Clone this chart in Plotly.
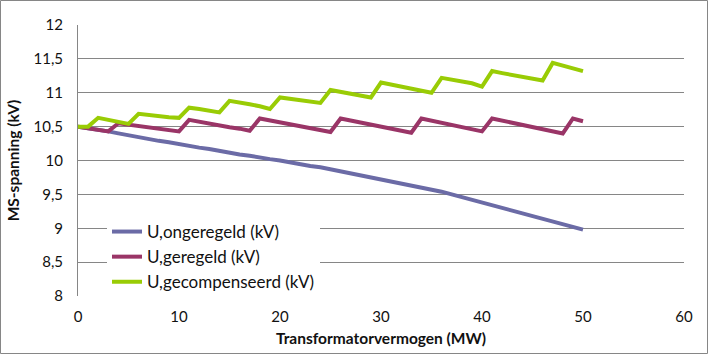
import plotly.graph_objects as go

x_mw = list(range(0, 51))

u_ongeregeld = [10.50, 10.48, 10.45, 10.43, 10.40, 10.37, 10.35, 10.32, 10.29, 10.27,
                10.24, 10.22, 10.19, 10.17, 10.14, 10.12, 10.09, 10.07, 10.04, 10.02,
                10.00, 9.97, 9.95, 9.92, 9.90, 9.87, 9.84, 9.81, 9.79, 9.76,
                9.73, 9.70, 9.67, 9.64, 9.61, 9.57, 9.54, 9.50, 9.46, 9.42,
                9.38, 9.34, 9.30, 9.26, 9.22, 9.18, 9.14, 9.10, 9.06, 9.02, 8.98]

u_geregeld = [10.50, 10.48, 10.46, 10.43, 10.55, 10.53, 10.51, 10.49, 10.47, 10.45,
              10.43, 10.60, 10.57, 10.54, 10.52, 10.49, 10.47, 10.44, 10.62, 10.59,
              10.56, 10.53, 10.51, 10.48, 10.45, 10.42, 10.62, 10.59, 10.56, 10.53,
              10.50, 10.47, 10.44, 10.41, 10.62, 10.59, 10.55, 10.52, 10.49, 10.46,
              10.43, 10.62, 10.59, 10.56, 10.52, 10.49, 10.46, 10.43, 10.40, 10.62, 10.58]

u_gecompenseerd = [10.50, 10.50, 10.63, 10.60, 10.57, 10.54, 10.69, 10.67, 10.66, 10.64,
                   10.63, 10.78, 10.76, 10.73, 10.71, 10.88, 10.86, 10.83, 10.80, 10.76,
                   10.93, 10.91, 10.89, 10.87, 10.85, 11.04, 11.01, 10.98, 10.96, 10.93,
                   11.15, 11.12, 11.09, 11.07, 11.04, 11.00, 11.22, 11.19, 11.16, 11.14,
                   11.09, 11.32, 11.29, 11.26, 11.23, 11.21, 11.18, 11.44, 11.40, 11.36, 11.32]

names = ["U,ongeregeld (kV)", "U,geregeld (kV)", "U,gecompenseerd (kV)"]
colors = ["#6B6BA6", "#9A3567", "#99CC05"]

fig = go.Figure()
for name, ys, c in zip(names, [u_ongeregeld, u_geregeld, u_gecompenseerd], colors):
    fig.add_trace(go.Scatter(x=x_mw, y=ys, mode="lines", name=name,
                             line=dict(color=c, width=4)))

W, H = 708, 354
ml, mr, mt, mb = 78, 24, 25, 58
pw, ph = W - ml - mr, H - mt - mb

font = "Lato, 'Open Sans', sans-serif"
fig.update_layout(
    width=W, height=H,
    margin=dict(l=ml, r=mr, t=mt, b=mb, autoexpand=False),
    paper_bgcolor="white", plot_bgcolor="white",
    font=dict(family=font, size=15, color="#111"),
    showlegend=True,
    legend=dict(x=(107 - ml) / pw, y=(296 - 214) / ph, xanchor="left", yanchor="top",
                bgcolor="white", font=dict(size=17), tracegroupgap=0,
                itemwidth=30),
    xaxis=dict(range=[0, 60], tickvals=[0, 10, 20, 30, 40, 50, 60],
               showgrid=False, zeroline=False, showline=False, automargin=False,
               ticks="", ticklabelstandoff=10,
               title=dict(text="<b>Transformatorvermogen (MW)</b>", font=dict(size=15.5), standoff=9)),
    yaxis=dict(range=[8, 12], tickvals=[8, 8.5, 9, 9.5, 10, 10.5, 11, 11.5, 12],
               ticktext=["8", "8,5", "9", "9,5", "10", "10,5", "11", "11,5", "12"],
               showgrid=True, gridcolor="#868686", gridwidth=1, automargin=False,
               zeroline=False, showline=True, linecolor="#868686", linewidth=1,
               ticks="", ticklabelstandoff=11,
               title=dict(text="<b>MS-spanning (kV)</b>", font=dict(size=15.5), standoff=10)),
)

# outer chart border
fig.add_shape(type="rect", xref="paper", yref="paper",
              x0=(0.5 - ml) / pw, x1=(W - 0.5 - ml) / pw,
              y0=-(mb - 0.5) / ph, y1=1 + (mt - 0.5) / ph,
              line=dict(color="#868686", width=1), layer="below")

fig.write_html("out.html")
